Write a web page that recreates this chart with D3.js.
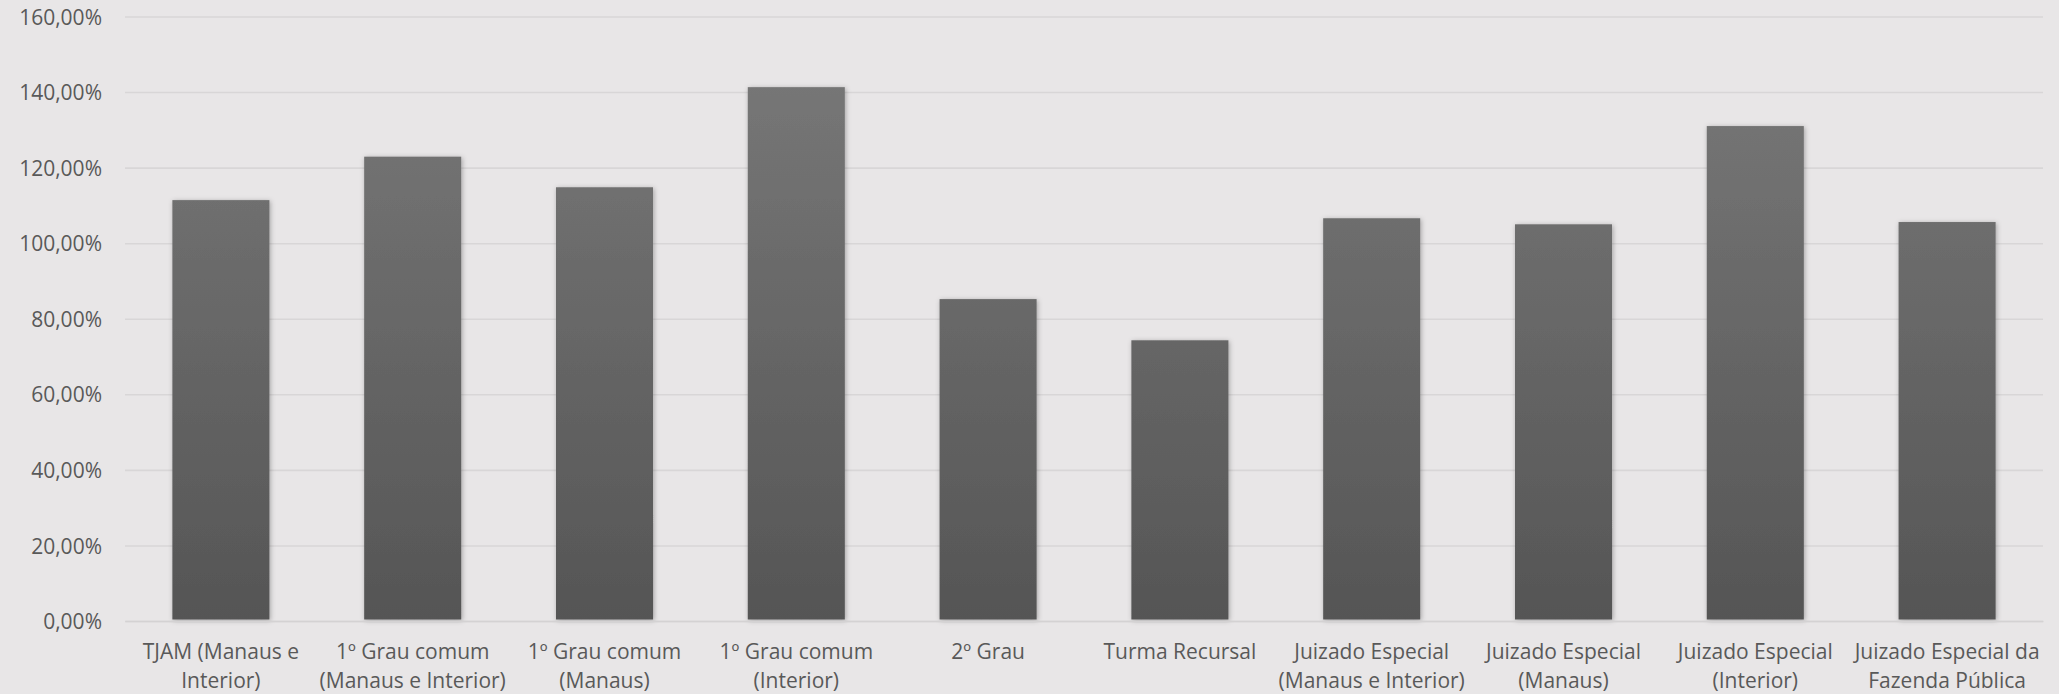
<!DOCTYPE html>
<html>
<head>
<meta charset="utf-8">
<script src="https://cdn.jsdelivr.net/npm/d3@7"></script>
<style>
  html, body { margin: 0; padding: 0; background: #E8E6E7; }
  svg { display: block; }
  text { font-family: "Open Sans", sans-serif; fill: #595959; }
</style>
</head>
<body>
<svg id="chart" width="2059" height="694"></svg>
<script>
// Categories (line breaks as drawn under each bar)
const categories = [
  "TJAM (Manaus e\nInterior)",
  "1º Grau comum\n(Manaus e Interior)",
  "1º Grau comum\n(Manaus)",
  "1º Grau comum\n(Interior)",
  "2º Grau",
  "Turma Recursal",
  "Juizado Especial\n(Manaus e Interior)",
  "Juizado Especial\n(Manaus)",
  "Juizado Especial\n(Interior)",
  "Juizado Especial da\nFazenda Pública"
];

// Percentages per category
const values = [111.4, 122.9, 114.8, 141.3, 85.2, 74.3, 106.6, 105.0, 131.0, 105.6];

// Y-axis ticks (percent)
const yTicks = [0, 20, 40, 60, 80, 100, 120, 140, 160];

const W = 2059, H = 694;
const plot = { left: 125, right: 2043, top: 16.5, bottom: 621 };

const svg = d3.select("#chart");

const ptBR = d3.formatLocale({ decimal: ",", thousands: ".", grouping: [3], currency: ["R$", ""] });
const fmt = v => ptBR.format(".2f")(v) + "%";

const x = d3.scaleBand()
  .domain(categories)
  .range([plot.left, plot.right])
  .paddingInner(0.494)
  .paddingOuter(0.247);

const y = d3.scaleLinear()
  .domain([0, 160])
  .range([plot.bottom, plot.top]);

// Defs: bar gradient and soft shadow
const defs = svg.append("defs");
const grad = defs.append("linearGradient")
  .attr("id", "barGrad")
  .attr("gradientUnits", "userSpaceOnUse")
  .attr("x1", 0).attr("x2", 0)
  .attr("y1", y(160)).attr("y2", y(0));
grad.append("stop").attr("offset", "0%").attr("stop-color", "#7A7A7A");
grad.append("stop").attr("offset", "100%").attr("stop-color", "#555555");

const shadow = defs.append("filter")
  .attr("id", "barShadow")
  .attr("x", "-20%").attr("y", "-5%")
  .attr("width", "140%").attr("height", "110%");
shadow.append("feDropShadow")
  .attr("dx", 1).attr("dy", 1)
  .attr("stdDeviation", 2.5)
  .attr("flood-color", "#000")
  .attr("flood-opacity", 0.3);

// Horizontal gridlines
const yAxis = d3.axisLeft(y)
  .tickValues(yTicks)
  .tickSize(-(plot.right - plot.left))
  .tickPadding(23)
  .tickFormat(fmt);

const gy = svg.append("g")
  .attr("transform", `translate(${plot.left},0)`)
  .call(yAxis);
gy.select(".domain").remove();
gy.selectAll(".tick line")
  .attr("stroke", "#D8D6D7")
  .attr("stroke-width", 1.6);
gy.selectAll(".tick text")
  .attr("font-size", 21)
  .attr("fill", "#595959")
  .attr("dy", "0.36em")
  .style("font-family", "'Open Sans', sans-serif");

// Bars
svg.append("g")
  .selectAll("rect")
  .data(values)
  .join("rect")
  .attr("x", (d, i) => x(categories[i]))
  .attr("y", d => y(d))
  .attr("width", x.bandwidth())
  .attr("height", d => y(0) - 1.5 - y(d))
  .attr("fill", "url(#barGrad)")
  .attr("filter", "url(#barShadow)");

// Category axis
const xAxis = d3.axisBottom(x).tickSize(0).tickPadding(0).tickFormat("");
const gx = svg.append("g")
  .attr("transform", `translate(0,${plot.bottom})`)
  .call(xAxis);
gx.select(".domain")
  .attr("stroke", "#D4D2D3")
  .attr("stroke-width", 1.6);

gx.selectAll(".tick").each(function(d) {
  const t = d3.select(this).append("text")
    .attr("text-anchor", "middle")
    .attr("font-size", 21)
    .attr("fill", "#595959")
    .attr("y", 38);
  d.split("\n").forEach((line, k) => {
    t.append("tspan")
      .attr("x", 0)
      .attr("dy", k === 0 ? 0 : 28.5)
      .text(line);
  });
});
</script>
</body>
</html>
